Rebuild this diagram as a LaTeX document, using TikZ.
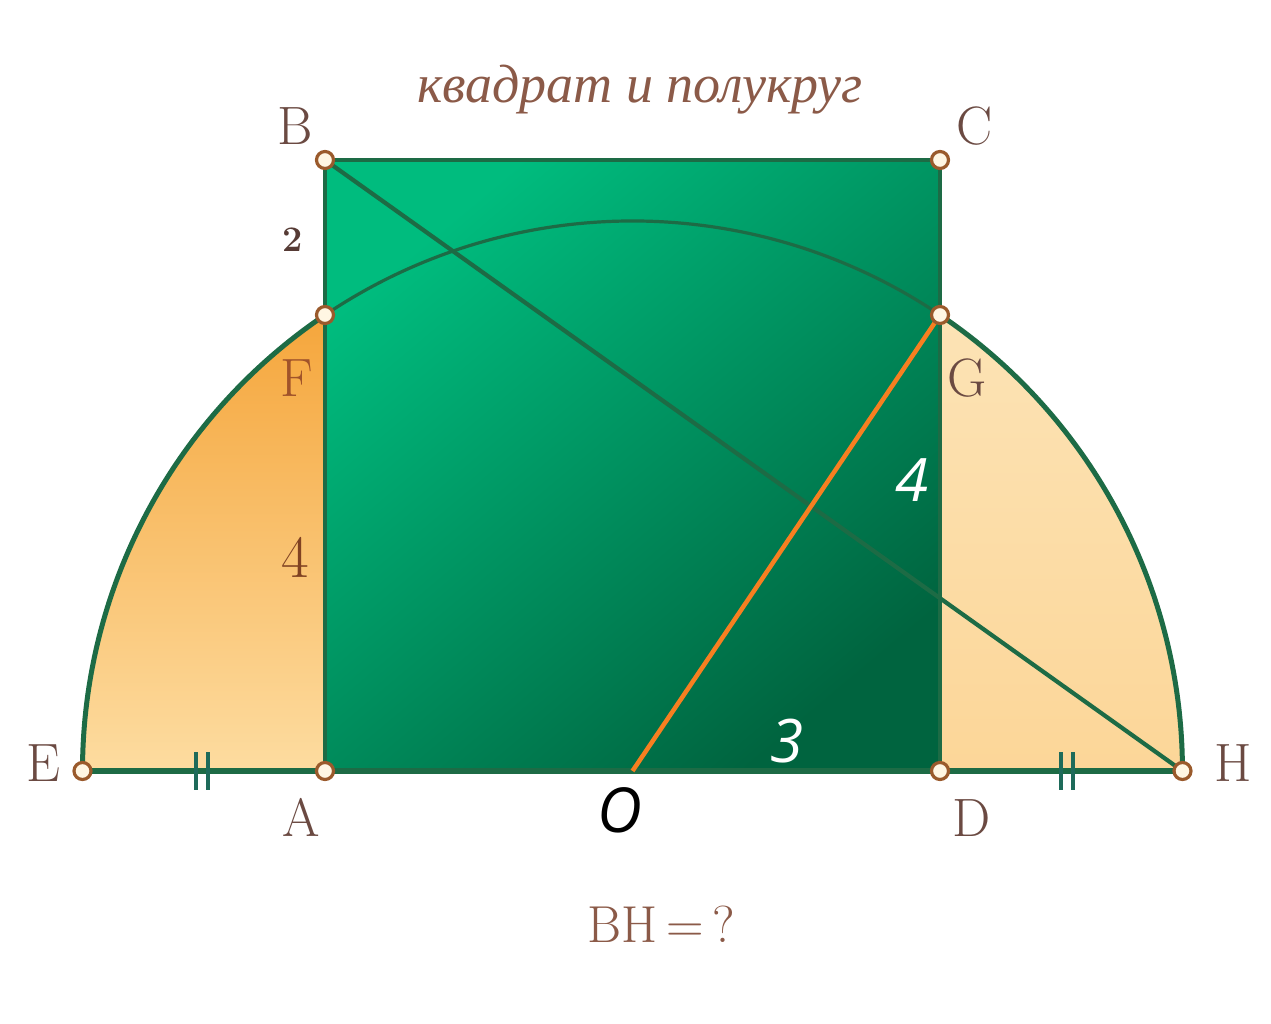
\documentclass[tikz,border=0pt]{standalone}
\usepackage{fontspec}
\newfontfamily\titlefont{Liberation Serif}
\newfontfamily\numfont{Open Sans}
\definecolor{dkgreen}{HTML}{1D6B45}
\definecolor{sqlight}{HTML}{00BC7E}
\definecolor{sqdark}{HTML}{00643F}
\definecolor{orA}{HTML}{F5A63C}
\definecolor{orB}{HTML}{FDDCA0}
\definecolor{peachA}{HTML}{FCE3B5}
\definecolor{peachB}{HTML}{FCD698}
\definecolor{lbl}{HTML}{6B4A42}
\definecolor{flbl}{HTML}{A0532A}
\definecolor{ptbrown}{HTML}{9A5A2C}
\definecolor{ptfill}{HTML}{FFF6E3}
\definecolor{orline}{HTML}{F77F20}
\definecolor{tickc}{HTML}{1E6B5A}
\definecolor{titlec}{HTML}{8B5A48}
\begin{document}
\begin{tikzpicture}[x=1pt,y=1pt,
  pt/.style={circle,draw=ptbrown,fill=ptfill,line width=3.2pt,inner sep=0pt,minimum size=17pt},
  lab/.style={text=lbl,font=\fontsize{54}{60}\selectfont,inner sep=0pt,anchor=base},
  wnum/.style={text=white,font=\numfont\itshape\fontsize{60}{66}\selectfont,inner sep=0pt,anchor=base},
  thickarc/.style={draw=dkgreen,line width=5pt},
  thinline/.style={draw=dkgreen,line width=4.2pt},
  tickmark/.style={draw=tickc,line width=3.5pt}
]
\useasboundingbox[fill=white] (0,0) rectangle (1271,1024);
% points
\coordinate (O) at (632.5,253);
\coordinate (E) at (82.5,253);
\coordinate (H) at (1182.5,253);
\coordinate (A) at (325,253);
\coordinate (D) at (940,253);
\coordinate (B) at (325,864);
\coordinate (C) at (940,864);
\coordinate (F) at (325,709);
\coordinate (G) at (940,709);
% fills
\shade[top color=orA, bottom color=orB] (E) arc[start angle=180,end angle=124,radius=550] -- (A) -- cycle;
\shade[top color=peachA, bottom color=peachB] (D) -- (G) arc[start angle=56,end angle=0,radius=550] -- cycle;
\shade[top color=sqlight, bottom color=sqdark, shading angle=40] (A) rectangle (C);
% outlines
\draw[thinline, line width=3.8pt] (A) rectangle (C);
\draw[thickarc] (E) arc[start angle=180,end angle=124,radius=550];
\draw[thickarc] (G) arc[start angle=56,end angle=0,radius=550];
\draw[thinline, line width=3.2pt] (F) arc[start angle=124,end angle=56,radius=550];
\draw[thickarc, line width=5.5pt] (E) -- (H);
\draw[thinline] (B) -- (H);
\draw[draw=orline, line width=4.5pt] (O) -- (G);
% ticks
\draw[tickmark] (196,234) -- (196,272) (208,234) -- (208,272);
\draw[tickmark] (1061,234) -- (1061,272) (1073,234) -- (1073,272);
% point markers
\foreach \p in {B,C,F,G,E,A,D,H} \node[pt] (n\p) at (\p) {};
% labels
\node[lab] (lB) at (295,879) {B};
\node[lab] (lC) at (975,879) {C};
\node[lab, text=flbl] (lF) at (297,627) {F};
\node[lab] (lG) at (967,627) {G};
\node[lab] (lE) at (43,242) {E};
\node[lab] (lA) at (301,187) {A};
\node[lab] (lD) at (972,187) {D};
\node[lab] (lH) at (1233,242) {H};
\node[lab, text=flbl!80!black, font=\fontsize{60}{66}\selectfont] (l4a) at (295,446) {4};
\node[lab, text=lbl!80!black, font=\bfseries\fontsize{36}{40}\selectfont] (l2) at (293,772) {2};
\node[wnum] (l4b) at (912,522) {4};
\node[wnum] (l3) at (787,261) {3};
\node[wnum, text=black, font=\numfont\itshape\fontsize{62}{66}\selectfont] (lO) at (620,191) {O};
\node[lab, text=titlec, font=\titlefont\itshape\fontsize{54}{60}\selectfont] (title) at (640,921) {квадрат и полукруг};
\node[lab, text=titlec, font=\fontsize{52}{60}\selectfont] (q) at (661,81) {BH\,=\,?};
\end{tikzpicture}
\end{document}
